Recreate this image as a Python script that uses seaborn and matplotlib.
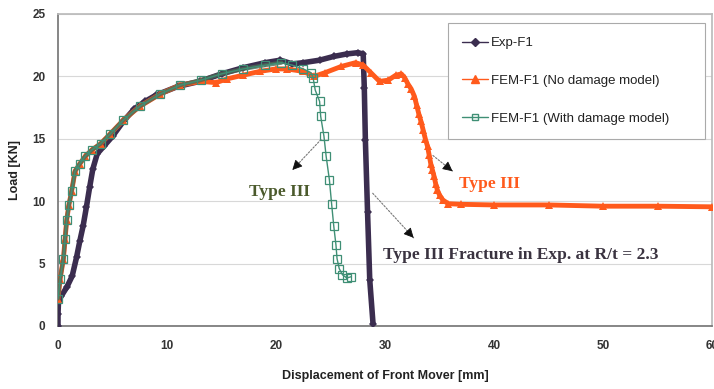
import numpy as np
import pandas as pd
import matplotlib
matplotlib.use("Agg")
import matplotlib.pyplot as plt
from matplotlib.lines import Line2D
import seaborn as sns

# Valeurs (déplacement [mm], charge [kN])
exp_x = [0.0, 0.0, 0.05, 0.3, 0.8, 1.3, 1.7, 2.0, 2.3, 2.6, 2.9, 3.2, 3.6, 4.2, 5.0,
         6.0, 7.0, 8.0, 9.0, 11.0, 13.0, 15.0, 17.0, 19.0, 20.4, 21.5, 22.5, 24.0,
         25.3, 26.5, 27.5, 28.0, 28.1, 28.2, 28.4, 28.6, 28.9]
exp_y = [0.0, 1.0, 2.0, 2.4, 3.1, 4.0, 5.5, 6.8, 8.0, 9.5, 11.1, 12.6, 13.8, 14.4, 15.2,
         16.4, 17.4, 18.0, 18.5, 19.2, 19.6, 20.2, 20.7, 21.1, 21.3, 21.0, 21.1, 21.3,
         21.6, 21.8, 21.9, 21.8, 19.1, 14.9, 9.1, 3.7, 0.2]

fem_x = [0.0, 0.2, 0.5, 0.65, 0.8, 1.0, 1.25, 1.56, 2.0, 2.5, 3.1, 3.9, 4.8, 6.0, 7.5,
         9.4, 11.2, 13.1, 14.5, 15.5, 17.0, 18.5, 20.0, 21.0, 22.5, 23.5, 24.5, 26.0,
         27.3, 28.0, 28.7, 29.5, 30.3, 31.0, 31.5, 31.8, 32.1, 32.4, 32.7, 32.9, 33.1,
         33.3, 33.5, 33.7, 33.9, 34.05, 34.2, 34.35, 34.5, 34.65, 34.8, 35.0, 35.3,
         35.8, 37.0, 40.0, 45.0, 50.0, 55.0, 60.0]
fem_y = [2.2, 3.8, 5.4, 7.0, 8.5, 9.7, 10.8, 12.4, 13.0, 13.6, 14.1, 14.6, 15.4, 16.5, 17.6,
         18.6, 19.3, 19.6, 19.5, 19.8, 20.1, 20.4, 20.6, 20.6, 20.4, 20.0, 20.3, 20.8,
         21.1, 20.9, 20.3, 19.6, 19.7, 20.1, 20.2, 19.9, 19.4, 19.0, 18.4, 17.7, 17.0,
         16.4, 15.7, 15.0, 14.4, 13.7, 13.0, 12.5, 12.0, 11.4, 10.9, 10.5, 10.1,
         9.8, 9.75, 9.7, 9.7, 9.6, 9.6, 9.55]

dmg_x = [0.0, 0.2, 0.5, 0.65, 0.8, 1.0, 1.25, 1.56, 2.0, 2.5, 3.1, 3.9, 4.8, 6.0, 7.5,
         9.4, 11.2, 13.1, 15.0, 17.0, 19.0, 20.5, 21.5, 22.5, 23.2, 23.4, 23.6, 24.0,
         24.1, 24.4, 24.6, 24.9, 25.1, 25.3, 25.5, 25.6, 25.8, 26.1, 26.5, 26.9]
dmg_y = [2.2, 3.8, 5.4, 7.0, 8.5, 9.7, 10.8, 12.4, 13.0, 13.6, 14.1, 14.6, 15.4, 16.5, 17.6,
         18.6, 19.3, 19.7, 20.2, 20.6, 20.9, 21.1, 20.9, 20.6, 20.3, 19.9, 18.9, 18.0,
         16.8, 15.2, 13.6, 11.7, 9.8, 8.0, 6.5, 5.4, 4.6, 4.1, 3.85, 3.95]

labels = ["Exp-F1", "FEM-F1 (No damage model)", "FEM-F1 (With damage model)"]

c_exp = "#3b2d4f"
c_fem = "#ff5a1c"
c_dmg = "#3f8f75"

sns.set_theme(style="white")
plt.rcParams["font.family"] = ["Liberation Sans", "DejaVu Sans"]

fig = plt.figure(figsize=(7.14, 3.89), dpi=100)
ax = fig.add_axes([58 / 714, 63 / 389, 654 / 714, 312 / 389])

# bande épaisse (marqueurs denses) puis marqueurs
sns.lineplot(x=exp_x, y=exp_y, sort=False, estimator=None, color=c_exp, lw=4.0, ax=ax, zorder=3)
sns.lineplot(x=exp_x, y=exp_y, sort=False, estimator=None, color=c_exp, lw=1.0,
             marker="D", markersize=4, markeredgewidth=0, ax=ax, zorder=3)

sns.lineplot(x=fem_x, y=fem_y, sort=False, estimator=None, color=c_fem, lw=3.5, ax=ax, zorder=4)
sns.lineplot(x=fem_x, y=fem_y, sort=False, estimator=None, color=c_fem, lw=1.0,
             marker="^", markersize=6, markeredgewidth=0, ax=ax, zorder=4)

sns.lineplot(x=dmg_x[:22], y=dmg_y[:22], sort=False, estimator=None, color="#4d6a55",
             lw=3.0, alpha=0.8, ax=ax, zorder=5)
sns.lineplot(x=dmg_x, y=dmg_y, sort=False, estimator=None, color=c_dmg, lw=1.0,
             marker="s", markersize=5.5, markerfacecolor="none", markeredgecolor=c_dmg,
             markeredgewidth=0.9, ax=ax, zorder=6)

ax.set_xlim(0, 60)
ax.set_ylim(0, 25)
ax.set_xticks(range(0, 61, 10))
ax.set_yticks(range(0, 26, 5))
ax.yaxis.grid(True, color="#d8d8d8", lw=0.8)
ax.xaxis.grid(False)
ax.set_axisbelow(True)
for side in ["left", "bottom"]:
    ax.spines[side].set_color("#777777")
for side in ["top", "right"]:
    ax.spines[side].set_color("#bbbbbb")
ax.tick_params(axis="x", length=0, pad=10, labelsize=8.5, labelcolor="#333333")
ax.tick_params(axis="y", length=0, pad=9, labelsize=8.5, labelcolor="#333333")
for t in ax.get_xticklabels() + ax.get_yticklabels():
    t.set_fontweight("bold")

ax.set_xlabel("Displacement of Front Mover [mm]", fontsize=9, fontweight="bold",
              color="#222222", labelpad=13)
ax.set_ylabel("Load [KN]", fontsize=9, fontweight="bold", color="#222222", labelpad=8)

# annotations
serif = ["Liberation Serif", "DejaVu Serif"]
def pointer(x0, y0, x1, y1):
    ax.annotate("", xy=(x1, y1), xytext=(x0, y0),
                arrowprops=dict(arrowstyle="-", ls=(0, (1.5, 1.5)), color="#777777", lw=0.8))
    ax.annotate("", xy=(x1, y1), xytext=(x1 - (x1 - x0) * 0.12, y1 - (y1 - y0) * 0.12),
                arrowprops=dict(arrowstyle="-|>,head_length=0.5,head_width=0.25",
                                color="#111111", lw=0.6))

pointer(24.3, 15.1, 21.5, 12.5)
ax.text(20.3, 10.7, "Type III", family=serif, fontsize=12.5, fontweight="bold",
        color="#4b5a2c", ha="center", va="center")

pointer(34.2, 13.8, 36.2, 12.4)
ax.text(39.6, 11.4, "Type III", family=serif, fontsize=12.5, fontweight="bold",
        color=c_fem, ha="center", va="center")

pointer(28.7, 10.8, 32.8, 6.9)
ax.text(29.8, 5.7, "Type III Fracture in Exp. at R/t = 2.3", family=serif, fontsize=12.5,
        fontweight="bold", color="#3a3340", ha="left", va="center")

handles = [
    Line2D([], [], color=c_exp, lw=1, marker="D", markersize=4),
    Line2D([], [], color=c_fem, lw=1, marker="^", markersize=5.5),
    Line2D([], [], color=c_dmg, lw=1, marker="s", markersize=4.5, markerfacecolor="none"),
]
leg = ax.legend(handles, labels, loc="upper left", bbox_to_anchor=(0.596, 0.971, 0.393, 0.0),
                mode="expand", fontsize=9.5, labelspacing=1.95, handlelength=2.0,
                handletextpad=0.2, borderpad=1.05, borderaxespad=0, fancybox=False,
                frameon=True, edgecolor="#aaaaaa", framealpha=1)
leg.get_frame().set_linewidth(0.8)
for t in leg.get_texts():
    t.set_color("#222222")

fig.savefig("out.png", dpi=100)
